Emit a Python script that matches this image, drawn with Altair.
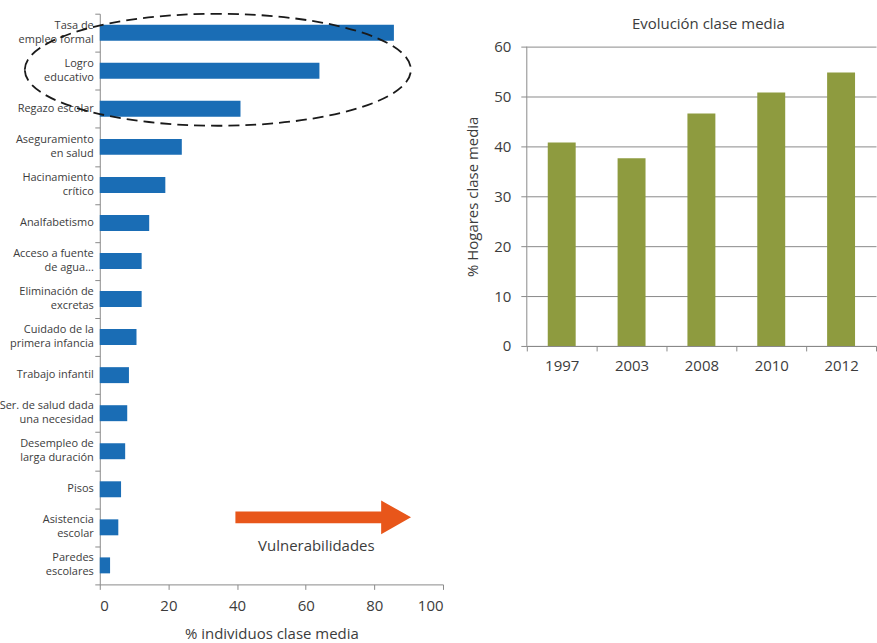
import altair as alt
import pandas as pd

# Vulnerabilities of the middle class (% of individuals)
categories = [
    "Tasa de\nempleo formal",
    "Logro\neducativo",
    "Regazo escolar",
    "Aseguramiento\nen salud",
    "Hacinamiento\ncrítico",
    "Analfabetismo",
    "Acceso a fuente\nde agua...",
    "Eliminación de\nexcretas",
    "Cuidado de la\nprimera infancia",
    "Trabajo infantil",
    "Ser. de salud dada\nuna necesidad",
    "Desempleo de\nlarga duración",
    "Pisos",
    "Asistencia\nescolar",
    "Paredes\nescolares",
]
shares = [85.7, 64.0, 41.0, 23.9, 19.1, 14.4, 12.2, 12.2, 10.7, 8.5, 8.0, 7.4, 6.2, 5.4, 3.0]

# Middle-class households over time (%)
years = ["1997", "2003", "2008", "2010", "2012"]
households = [40.8, 37.6, 46.6, 50.8, 54.8]

x_ticks = [0, 20, 40, 60, 80, 100]
y_ticks = [0, 10, 20, 30, 40, 50, 60]

FONT = "'Open Sans'"
TXT = "#3c3c3c"
AX = "#8a8a8a"
BLUE = "#1a6db5"
GREEN = "#8e9b3f"
ORANGE = "#e8561a"

left_df = pd.DataFrame({"cat": categories, "val": shares})
right_df = pd.DataFrame({"year": years, "pct": households})
one = pd.DataFrame({"k": [0]})

# ---------------- left panel: horizontal bars ----------------
y_left = alt.Y(
    "cat:N",
    sort=categories,
    scale=alt.Scale(paddingInner=0, paddingOuter=0),
    axis=alt.Axis(
        title=None,
        labels=False,
        tickBand="extent",
        domainColor=AX,
        tickColor=AX,
        tickSize=5,
    ),
)
x_left = alt.X(
    "val:Q",
    scale=alt.Scale(domain=[0, 100], nice=False),
    axis=alt.Axis(
        values=x_ticks,
        grid=False,
        title="% individuos clase media",
        titleFont=FONT,
        titleFontSize=15,
        titleFontWeight="normal",
        titleColor=TXT,
        titlePadding=13,
        domainColor=AX,
        tickColor=AX,
        tickSize=5,
        labelPadding=9,
        labelFont=FONT,
        labelFontSize=15,
        labelColor=TXT,
    ),
)

bars_left = alt.Chart(left_df).mark_bar(size=16, color=BLUE).encode(x=x_left, y=y_left)

# category names, right-aligned beside the axis; two-line names are lifted
# half a line so that they stay centred on their bar
names = alt.Chart(left_df).transform_calculate(two="indexof(datum.cat, '\\n') >= 0")
name_style = dict(
    align="right",
    baseline="middle",
    lineBreak="\n",
    lineHeight=14,
    font=FONT,
    fontSize=11,
    color=TXT,
)
names_single = (
    names.transform_filter("!datum.two")
    .mark_text(**name_style)
    .encode(y=y_left, x=alt.value(-6), text="cat:N")
)
names_double = (
    names.transform_filter("datum.two")
    .mark_text(dy=-7, **name_style)
    .encode(y=y_left, x=alt.value(-6), text="cat:N")
)

# dashed ellipse around the three largest vulnerabilities (cubic Bezier outline)
ellipse_path = (
    "M -1 0 C -1 -0.16 -0.5523 -0.29 0 -0.29 "
    "C 0.5523 -0.29 1 -0.16 1 0 "
    "C 1 0.16 0.5523 0.29 0 0.29 "
    "C -0.5523 0.29 -1 0.16 -1 0 Z"
)
ellipse = alt.Chart(one).mark_point(
    shape=ellipse_path,
    size=387 * 387,
    filled=False,
    stroke="#1a1a1a",
    strokeWidth=1.8,
    strokeDash=[11, 6],
    opacity=1,
    yOffset=-1,
).encode(x=alt.datum(34.4), y=alt.datum(categories[1]))

# arrow pointing to higher vulnerability
arrow_path = "M -1 -0.068 L 0.66 -0.068 L 0.66 -0.193 L 1 0 L 0.66 0.193 L 0.66 0.068 L -1 0.068 Z"
arrow = alt.Chart(one).mark_point(
    shape=arrow_path,
    size=176 * 176,
    filled=True,
    color=ORANGE,
    strokeWidth=0,
    opacity=1,
    yOffset=-10,
).encode(x=alt.datum(65.1), y=alt.datum(categories[13]))

arrow_label = alt.Chart(one).mark_text(
    text="Vulnerabilidades",
    font=FONT,
    fontSize=15,
    color=TXT,
    align="center",
    baseline="middle",
    dy=19,
).encode(x=alt.datum(63.1), y=alt.datum(categories[13]))

left = alt.layer(bars_left, names_single, names_double, ellipse, arrow, arrow_label).properties(
    width=344, height=572
)

# ---------------- right panel: vertical bars ----------------
# the value scale runs a little above 60 so the heading sits inside the panel
y_right = alt.Y(
    "pct:Q",
    scale=alt.Scale(domain=[0, 66.6], nice=False),
    axis=alt.Axis(
        values=y_ticks,
        grid=True,
        gridColor=AX,
        gridWidth=1,
        domain=False,
        title="% Hogares clase media",
        titleFont=FONT,
        titleFontSize=15,
        titleFontWeight="normal",
        titleColor=TXT,
        titlePadding=13,
        titleY=183,
        tickColor=AX,
        tickSize=6,
        labelPadding=10,
        labelFont=FONT,
        labelFontSize=15,
        labelColor=TXT,
    ),
)

bars_right = alt.Chart(right_df).mark_bar(size=28, color=GREEN).encode(
    x=alt.X(
        "year:N",
        sort=years,
        scale=alt.Scale(paddingInner=0, paddingOuter=0),
        axis=alt.Axis(
            title=None,
            labelAngle=0,
            tickBand="extent",
            domainColor=AX,
            tickColor=AX,
            tickSize=5,
            labelPadding=8,
            labelFont=FONT,
            labelFontSize=15,
            labelColor=TXT,
        ),
    ),
    y=y_right,
)

# vertical axis line from 0 to 60
axis_line = alt.Chart(one).mark_rule(color=AX, strokeWidth=1).encode(
    x=alt.value(0), y=alt.datum(0), y2=alt.datum(60)
)

heading = alt.Chart(one).mark_text(
    text="Evolución clase media",
    font=FONT,
    fontSize=15,
    color=TXT,
    align="center",
    baseline="middle",
).encode(x=alt.value(182), y=alt.datum(64.6))

right = alt.layer(bars_right, axis_line, heading).properties(width=350, height=333)

chart = (
    alt.concat(left, right, columns=2, align="none", spacing=21)
    .properties(padding={"left": -1, "top": 9, "right": 0, "bottom": 0}, background="white")
    .configure_view(stroke=None)
)

chart.save("out.html", embed_options={"renderer": "svg", "actions": False})
